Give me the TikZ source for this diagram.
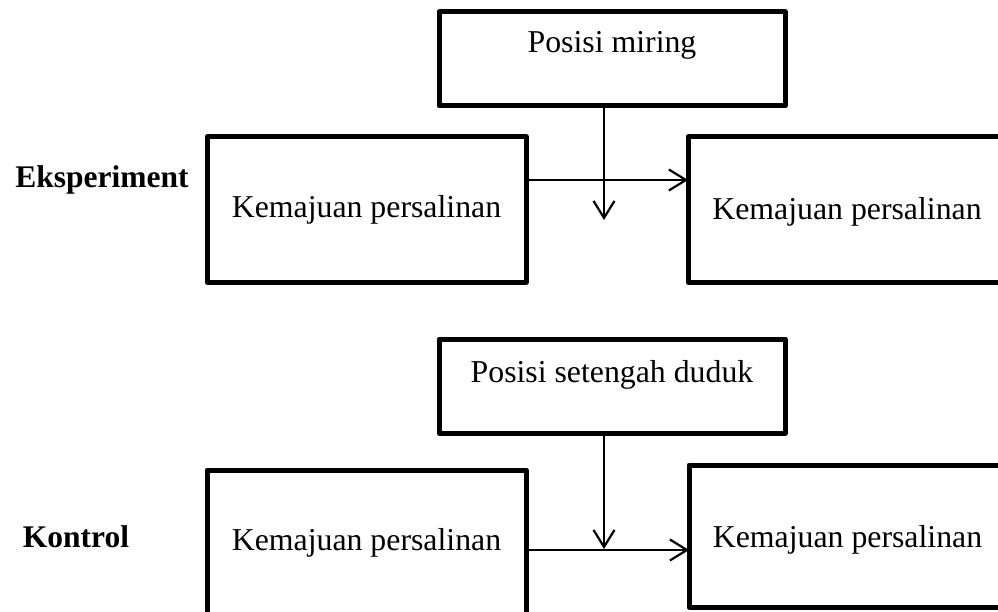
\documentclass[tikz,border=0pt]{standalone}
\usepackage{fontspec}
\setmainfont{Liberation Serif}
\usetikzlibrary{arrows.meta}
\begin{document}
\begin{tikzpicture}[x=1pt,y=-1pt,
  box/.style={draw=black,line width=5pt,line join=round,fill=none,inner sep=0pt,outer sep=0pt},
  txt/.style={inner sep=0pt,anchor=base,font=\fontsize{31.8}{38}\selectfont},
  lab/.style={inner sep=0pt,anchor=base,font=\fontsize{31.5}{38}\selectfont\bfseries},
  conn/.style={line width=2.2pt,-{Straight Barb[length=17pt,width=21pt,line width=2.2pt]}}]
\useasboundingbox (0,0) rectangle (998,612);
\clip (0,0) rectangle (998,612);
% top group
\node[box,minimum width=346pt,minimum height=94pt] (pm) at (612,59) {};
\node[txt] (pmt) at (612,53) {Posisi miring};
\node[box,minimum width=319pt,minimum height=145pt] (kl1) at (366.5,209.5) {};
\node[txt] (kl1t) at (366.5,218) {Kemajuan persalinan};
\node[box,minimum width=318pt,minimum height=145pt] (kr1) at (847,209.5) {};
\node[txt] (kr1t) at (847,220) {Kemajuan persalinan};
\node[lab] (eks) at (102,188) {Eksperiment};
\coordinate (v1) at (604,220);
\coordinate (h1) at (0,180);
\draw[conn] (kl1.east |- h1) -- (kr1.west |- h1);
\draw[conn] (pm.south -| v1) -- (v1);
% bottom group
\node[box,minimum width=346pt,minimum height=94pt] (ps) at (612,386) {};
\node[txt] (pst) at (612,382) {Posisi setengah duduk};
\node[box,minimum width=319pt,minimum height=145pt] (kl2) at (366.5,542.5) {};
\node[txt] (kl2t) at (366.5,550) {Kemajuan persalinan};
\node[box,minimum width=317pt,minimum height=142pt] (kr2) at (847.5,536) {};
\node[txt] (kr2t) at (847.5,547) {Kemajuan persalinan};
\node[lab] (kon) at (76,547) {Kontrol};
\coordinate (v2) at (604,549);
\coordinate (h2) at (0,550);
\draw[conn] (kl2.east |- h2) -- (kr2.west |- h2);
\draw[conn] (ps.south -| v2) -- (v2);
\end{tikzpicture}
\end{document}
